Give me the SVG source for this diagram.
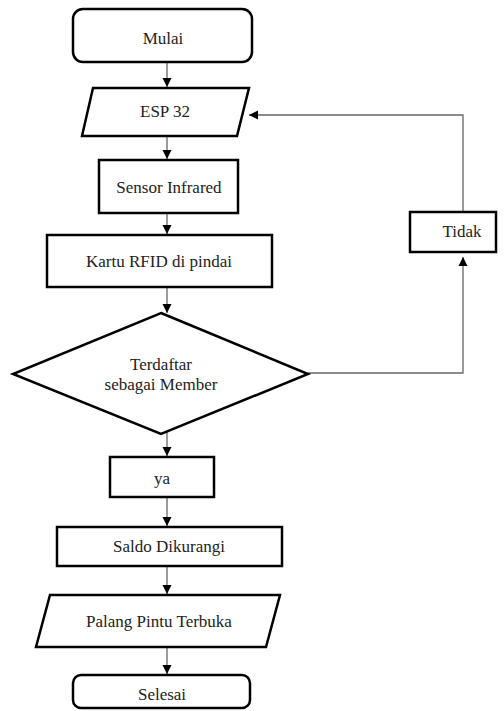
<svg xmlns="http://www.w3.org/2000/svg" width="504" height="711" viewBox="0 0 504 711" font-family="Liberation Serif, Times New Roman, serif">
<defs>
<marker id="a" markerWidth="10" markerHeight="10" refX="9" refY="5" orient="auto" markerUnits="userSpaceOnUse">
<path d="M0,0.5 L9,5 L0,9.5 z" fill="#000"/>
</marker>
</defs>
<rect width="504" height="711" fill="#fff"/>
<g id="connectors" fill="none" stroke="#666" stroke-width="1.3">
<line x1="167" y1="62" x2="167" y2="87" marker-end="url(#a)"/>
<line x1="167" y1="136" x2="167" y2="159" marker-end="url(#a)"/>
<line x1="167" y1="213" x2="167" y2="234" marker-end="url(#a)"/>
<line x1="167" y1="287" x2="167" y2="313" marker-end="url(#a)"/>
<line x1="167" y1="432" x2="167" y2="456" marker-end="url(#a)"/>
<line x1="167" y1="497" x2="167" y2="526" marker-end="url(#a)"/>
<line x1="167" y1="566" x2="167" y2="594" marker-end="url(#a)"/>
<line x1="167" y1="647" x2="167" y2="674" marker-end="url(#a)"/>
<polyline points="308,373 463,373 463,257" marker-end="url(#a)"/>
<polyline points="463,212 463,115 249,115" marker-end="url(#a)"/>
</g>
<g id="mulai">
<rect fill="#fff" stroke="#000" stroke-width="2.5" x="73" y="9" width="179" height="53" rx="10"/>
<text font-family="Liberation Serif" font-size="17" text-anchor="middle" fill="#222" x="163" y="44">Mulai</text>
</g>
<g id="esp32">
<polygon fill="#fff" stroke="#000" stroke-width="2.5" points="93,88 249,88 237,136 82,136"/>
<text font-family="Liberation Serif" font-size="17" text-anchor="middle" fill="#222" x="165" y="117">ESP 32</text>
</g>
<g id="sensor">
<rect fill="#fff" stroke="#000" stroke-width="2.5" x="99" y="160" width="139" height="53"/>
<text font-family="Liberation Serif" font-size="17" text-anchor="middle" fill="#222" x="169" y="193">Sensor Infrared</text>
</g>
<g id="kartu">
<rect fill="#fff" stroke="#000" stroke-width="2.5" x="47" y="235" width="225" height="52"/>
<text font-family="Liberation Serif" font-size="17" text-anchor="middle" fill="#222" x="159" y="267">Kartu RFID di pindai</text>
</g>
<g id="terdaftar">
<polygon fill="#fff" stroke="#000" stroke-width="2.5" points="161,313 308,374 161,434 13,374"/>
<text font-family="Liberation Serif" font-size="17" text-anchor="middle" fill="#222" x="161" y="370">Terdaftar</text>
<text font-family="Liberation Serif" font-size="17" text-anchor="middle" fill="#222" x="161" y="390">sebagai Member</text>
</g>
<g id="ya">
<rect fill="#fff" stroke="#000" stroke-width="2.5" x="110" y="457" width="104" height="40"/>
<text font-family="Liberation Serif" font-size="17" text-anchor="middle" fill="#222" x="162" y="484">ya</text>
</g>
<g id="saldo">
<rect fill="#fff" stroke="#000" stroke-width="2.5" x="57" y="527" width="225" height="39"/>
<text font-family="Liberation Serif" font-size="17" text-anchor="middle" fill="#222" x="169" y="552">Saldo Dikurangi</text>
</g>
<g id="palang">
<polygon fill="#fff" stroke="#000" stroke-width="2.5" points="50,595 280,595 266,647 36,647"/>
<text font-family="Liberation Serif" font-size="17" text-anchor="middle" fill="#222" x="159" y="627">Palang Pintu Terbuka</text>
</g>
<g id="selesai">
<rect fill="#fff" stroke="#000" stroke-width="2.5" x="73" y="675" width="177" height="33" rx="8"/>
<text font-family="Liberation Serif" font-size="17" text-anchor="middle" fill="#222" x="162" y="700">Selesai</text>
</g>
<g id="tidak">
<rect fill="#fff" stroke="#000" stroke-width="2.5" x="410" y="212" width="86" height="40"/>
<text font-family="Liberation Serif" font-size="17" text-anchor="middle" fill="#222" x="462" y="237">Tidak</text>
</g>
</svg>
